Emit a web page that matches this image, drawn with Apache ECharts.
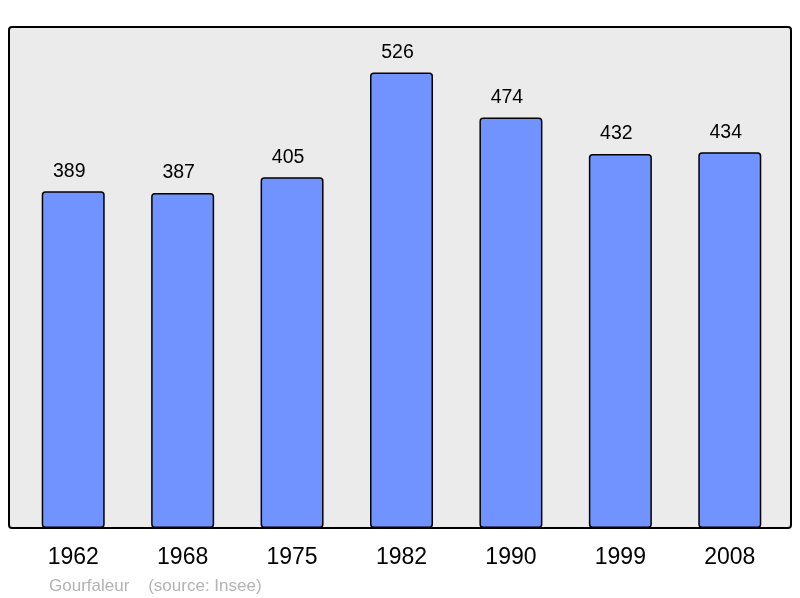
<!DOCTYPE html>
<html><head><meta charset="utf-8">
<script src="https://cdn.jsdelivr.net/npm/echarts@6/dist/echarts.min.js"></script>
<style>html,body{margin:0;padding:0;background:#fff}#c{width:800px;height:598px}</style>
</head><body><div id="c"></div>
<script>
const years = ['1962','1968','1975','1982','1990','1999','2008'];
const population = [389, 387, 405, 526, 474, 432, 434];
const credit = 'Gourfaleur    (source: Insee)';

const chart = echarts.init(document.getElementById('c'), null, {renderer:'canvas'});
chart.setOption({
  animation:false,
  backgroundColor:'#ffffff',
  textStyle:{fontFamily:'Liberation Sans, Arial, sans-serif'},
  graphic:[
    {type:'rect', z:-10, shape:{x:9,y:27,width:782,height:501,r:3},
     style:{fill:'#ebebeb', stroke:'#000', lineWidth:2}},
    {type:'text', left:49, top:578, style:{text:credit, fill:'#b3b3b3', fontSize:17, fontFamily:'Liberation Sans, Arial, sans-serif'}}
  ],
  grid:{left:18.5, right:15.5, top:27, bottom:70},
  xAxis:{type:'category', data:years, axisLine:{show:false}, axisTick:{show:false},
    axisLabel:{color:'#000', fontSize:23, margin:18}},
  yAxis:{type:'value', min:0, max:578.6, show:false, splitLine:{show:false}},
  series:[{type:'bar', data:population, barWidth:63,
    itemStyle:{color:'#7093ff', borderColor:'#000', borderWidth:1.5, borderRadius:3},
    label:{show:true, position:'top', distance:10, offset:[-4,0], color:'#000', fontSize:19.5}}]
});
</script></body></html>
